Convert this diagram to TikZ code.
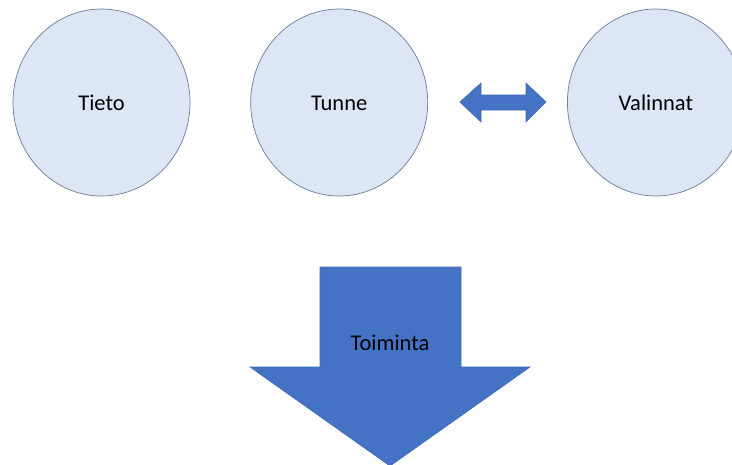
\documentclass[tikz,border=0pt]{standalone}
\usepackage{fontspec}
\setmainfont{Carlito}
\usetikzlibrary{shapes.geometric, positioning}
\definecolor{ringfill}{HTML}{DCE6F4}
\definecolor{ringline}{HTML}{6A7D99}
\definecolor{arrowblue}{HTML}{4472C4}
\definecolor{arrowline}{HTML}{3F68B5}
\tikzset{
  ring/.style={ellipse, draw=ringline, fill=ringfill, line width=0.7pt,
               minimum width=177pt, minimum height=187pt, inner sep=0pt,
               text height=15pt, text depth=0pt,
               font=\fontsize{22.5}{27}\selectfont},
  bigarrow/.style={fill=arrowblue, draw=arrowline, line width=0.6pt},
  word/.style={font=\fontsize{22.5}{27}\selectfont, inner sep=0pt},
}

\begin{document}
\begin{tikzpicture}[x=1pt, y=-1pt]
  \useasboundingbox (0,0) rectangle (732,464);
  \node (tieto)    [ring] at (101.5,102.5) {Tieto};
  \node (tunne)    [ring, right=60pt of tieto] {Tunne};
  \node (valinnat) [ring, right=139pt of tunne] {Valinnat};
  % two-headed arrow between Tunne and Valinnat
  \draw[bigarrow] (460,102) -- (481,83) -- (481,95) -- (526,95) -- (526,83)
    -- (546,102) -- (526,122) -- (526,110) -- (481,110) -- (481,122) -- cycle;
  % big down arrow
  \draw[bigarrow] (320,267) -- (461,267) -- (461,367) -- (530,367) -- (390,466)
    -- (250,367) -- (320,367) -- cycle;
  \node (toiminta) [word] at (390,343) {Toiminta};
\end{tikzpicture}
\end{document}
